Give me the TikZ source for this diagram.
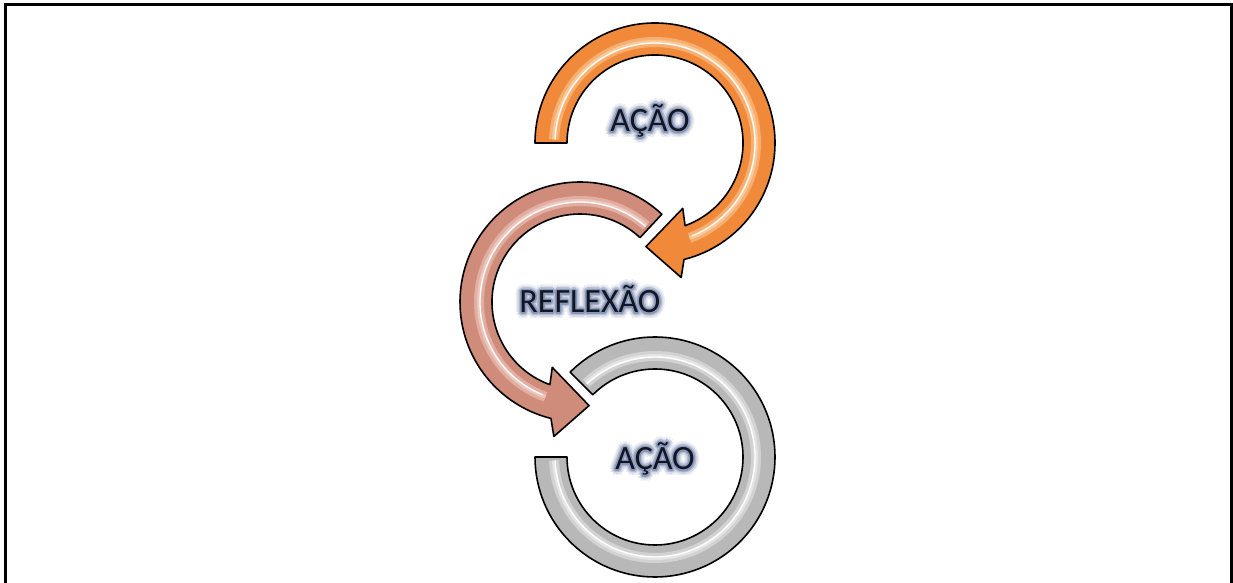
\documentclass[tikz,border=0pt]{standalone}
\usepackage{fontspec}
\newfontfamily\labelfont{Carlito}
\usepackage{tikz}
\usetikzlibrary{calc}

\definecolor{acaoorange}{RGB}{240,138,58}
\definecolor{acaolight}{RGB}{252,200,150}
\definecolor{reflexrose}{RGB}{208,140,122}
\definecolor{reflexlight}{RGB}{238,198,188}
\definecolor{acaogray}{RGB}{184,184,184}
\definecolor{graylight}{RGB}{228,228,228}
\definecolor{glowblue}{RGB}{118,134,172}
\definecolor{labelink}{RGB}{18,22,36}

% soft halo behind the words
\newcommand{\glowtext}[1]{%
  \foreach \gr/\gc in {6pt/glowblue!14,4.5pt/glowblue!30,3pt/glowblue!55,1.5pt/glowblue!85}{%
    \foreach \ga in {0,30,...,330}{%
      \pgfmathsetlengthmacro\gdx{\gr*cos(\ga)}%
      \pgfmathsetlengthmacro\gdy{\gr*sin(\ga)}%
      \rlap{\hspace*{\gdx}\raisebox{\gdy}{\textcolor{\gc}{#1}}}}}%
  \textcolor{labelink}{#1}}

\begin{document}
\begin{tikzpicture}[
    x=1pt, y=1pt,
    ring/.style={draw=black, line width=1.6pt, line join=round},
    cyclelabel/.style={font=\labelfont\fontsize{34}{40}\selectfont, anchor=base, inner sep=0pt}
]
    \useasboundingbox (0,0) rectangle (1233,583);
    \draw[line width=3pt] (5,0) -- (5,578) -- (1231,578) -- (1231,0);

    \coordinate (topc) at (655,440);
    \coordinate (midc) at (580,281);
    \coordinate (botc) at (655,126);

    % bottom ring (gray, no head)
    \begin{scope}[shift={(botc)}]
        \path[ring, fill=acaogray, path picture={
            \draw[graylight, line width=10pt, opacity=.6] (botc) ++(133:101) arc[start angle=133, end angle=-178, radius=101];
            \draw[graylight, line width=4pt] (botc) ++(133:101) arc[start angle=133, end angle=-178, radius=101];
            \draw[white, line width=1.3pt] (botc) ++(133:100) arc[start angle=133, end angle=-178, radius=100];
        }]
            (135:88) -- (135:120) arc[start angle=135, end angle=-180, radius=120]
            -- (180:88) arc[start angle=-180, end angle=135, radius=88] -- cycle;
    \end{scope}

    % middle arrow (reflexao)
    \begin{scope}[shift={(midc)}]
        \path[ring, fill=reflexrose, path picture={
            \draw[reflexlight, line width=10pt, opacity=.6] (midc) ++(49:101) arc[start angle=49, end angle=250, radius=101];
            \draw[reflexlight, line width=4pt] (midc) ++(49:101) arc[start angle=49, end angle=250, radius=101];
            \draw[white, line width=1.3pt] (midc) ++(49:100) arc[start angle=49, end angle=248, radius=100];
        }]
            (47:88) -- (47:120) arc[start angle=47, end angle=256, radius=120]
            -- (259:137) -- (275:104) -- (247:71)
            -- (250:88) arc[start angle=250, end angle=47, radius=88] -- cycle;
    \end{scope}

    % top arrow (acao)
    \begin{scope}[shift={(topc)}]
        \path[ring, fill=acaoorange, path picture={
            \draw[acaolight, line width=10pt, opacity=.6] (topc) ++(178:101) arc[start angle=178, end angle=-70, radius=101];
            \draw[acaolight, line width=4pt] (topc) ++(178:101) arc[start angle=178, end angle=-70, radius=101];
            \draw[white, line width=1.3pt] (topc) ++(178:100) arc[start angle=178, end angle=-68, radius=100];
        }]
            (180:88) -- (180:120) arc[start angle=180, end angle=-76, radius=120]
            -- (-79:137) -- (-95:104) -- (-67:71)
            -- (-70:88) arc[start angle=-70, end angle=180, radius=88] -- cycle;
    \end{scope}

    \node[cyclelabel] (acaotop) at (650,451) {\glowtext{AÇÃO}};
    \node[cyclelabel] (reflexao) at (590,270) {\glowtext{REFLEXÃO}};
    \node[cyclelabel] (acaobot) at (655,113) {\glowtext{AÇÃO}};
\end{tikzpicture}
\end{document}
